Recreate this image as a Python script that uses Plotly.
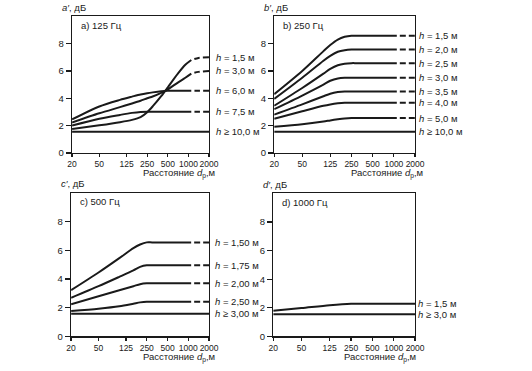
import plotly.graph_objects as go
import math

# ---------------- data ----------------
X_TICKS = [20, 50, 125, 250, 500, 1000, 2000]
X_TICK_TEXT = ["20", "50", "125", "250", "500", "1000", "2000"]
Y_TICKS = [0, 2, 4, 6, 8]
Y_RANGE = [0, 10]

# a) 125 Hz
A_X = [20, 50, 100, 150, 200, 250, 300, 400, 500, 700, 900, 1100]
A_H15 = [1.75, 2.02, 2.25, 2.42, 2.62, 2.98, 3.4, 4.15, 4.8, 5.8, 6.45, 6.8]
A_H30 = [2.23, 2.9, 3.35, 3.62, 3.82, 4.0, 4.13, 4.4, 4.65, 5.15, 5.5, 5.8]
A_H60 = [2.45, 3.4, 3.88, 4.12, 4.28, 4.37, 4.43, 4.51, 4.55, 4.55, 4.55, 4.55]
A_H75 = [2.0, 2.5, 2.78, 2.93, 3.0, 3.02, 3.02, 3.02, 3.02, 3.02, 3.02, 3.02]
A_DX = [1100, 1400, 2000]
A_H15_D = [6.8, 6.95, 7.0]
A_H30_D = [5.8, 5.93, 6.0]
A_H60_D = [4.55, 4.55, 4.55]
A_H75_D = [3.02, 3.02, 3.02]
A_FLAT_X = [20, 2000]
A_H100 = [1.55, 1.55]
A_LABELS = ["<i>h</i> = 1,5 м", "<i>h</i> = 3,0 м", "<i>h</i> = 6,0 м",
            "<i>h</i> = 7,5 м", "<i>h</i> ≥ 10,0 м"]

# b) 250 Hz
B_X = [20, 50, 100, 125, 160, 200, 250, 300, 1100]
B_H15 = [4.3, 6.0, 7.45, 7.9, 8.3, 8.5, 8.58, 8.58, 8.58]
B_H20 = [3.95, 5.5, 6.75, 7.1, 7.4, 7.52, 7.57, 7.57, 7.57]
B_H25 = [3.45, 4.75, 5.8, 6.15, 6.42, 6.53, 6.57, 6.57, 6.57]
B_H30 = [3.2, 4.2, 5.0, 5.28, 5.45, 5.5, 5.5, 5.5, 5.5]
B_H35 = [2.8, 3.55, 4.15, 4.33, 4.45, 4.5, 4.5, 4.5, 4.5]
B_H40 = [2.5, 3.05, 3.45, 3.55, 3.63, 3.67, 3.67, 3.67, 3.67]
B_H50 = [1.92, 2.1, 2.3, 2.38, 2.46, 2.52, 2.55, 2.55, 2.55]
B_DX = [1100, 2000]
B_FLAT_X = [20, 2000]
B_H100 = [1.55, 1.55]
B_LABELS = ["<i>h</i> = 1,5 м", "<i>h</i> = 2,0 м", "<i>h</i> = 2,5 м",
            "<i>h</i> = 3,0 м", "<i>h</i> = 3,5 м", "<i>h</i> = 4,0 м",
            "<i>h</i> = 5,0 м", "<i>h</i> ≥ 10,0 м"]

# c) 500 Hz
C_X = [20, 50, 100, 160, 200, 250, 300, 1100]
C_H150 = [3.22, 4.45, 5.45, 6.15, 6.4, 6.55, 6.55, 6.55]
C_H175 = [2.69, 3.5, 4.15, 4.6, 4.84, 4.95, 4.95, 4.95]
C_H200 = [2.24, 2.8, 3.22, 3.5, 3.64, 3.7, 3.7, 3.7]
C_H250 = [1.77, 1.93, 2.1, 2.28, 2.37, 2.42, 2.42, 2.42]
C_DX = [1100, 2000]
C_FLAT_X = [20, 2000]
C_H300 = [1.58, 1.58]
C_LABELS = ["<i>h</i> = 1,50 м", "<i>h</i> = 1,75 м", "<i>h</i> = 2,00 м",
            "<i>h</i> = 2,50 м", "<i>h</i> ≥ 3,00 м"]

# d) 1000 Hz
D_X = [20, 50, 125, 250, 300, 2000]
D_H15 = [1.79, 1.98, 2.18, 2.28, 2.28, 2.28]
D_FLAT_X = [20, 2000]
D_H30 = [1.55, 1.55]
D_LABELS = ["<i>h</i> = 1,5 м", "<i>h</i> ≥ 3,0 м"]

TITLES = ["a) 125 Гц", "b) 250 Гц", "c) 500 Гц", "d) 1000 Гц"]
Y_TITLES = ["<i>a′</i>, дБ", "<i>b′</i>, дБ", "<i>c′</i>, дБ", "<i>d′</i>, дБ"]
X_TITLE = "Расстояние <i>d</i><sub>р</sub>,м"

# ---------------- layout constants ----------------
W, H = 532, 371
FONT = "Liberation Sans, Arial, sans-serif"
INK = "#1a1a1a"
# panel boxes in pixels: left, right, top, bottom
BOXES = [(69, 210, 16.5, 155), (277, 422, 16.5, 155),
         (68, 210, 195.5, 341), (276, 422, 196, 341)]
LABEL_SHIFT = [5, 2, 4, 1]
XTITLE_SHIFT = [8, 10, 8, 3]


def xa(i):
    return "x" if i == 1 else f"x{i}"


def ya(i):
    return "y" if i == 1 else f"y{i}"


fig = go.Figure()


def line(panel, x, y, dashed=False, width=2.0):
    fig.add_trace(go.Scatter(
        x=x, y=y, mode="lines", xaxis=xa(panel), yaxis=ya(panel),
        line=dict(color=INK, width=width, shape="spline", smoothing=0.8,
                  dash="0px,3px,6px,0px" if dashed else "solid"),
        hoverinfo="skip", showlegend=False))


def label(panel, text, yval):
    fig.add_annotation(
        text=text, xref=f"{xa(panel)} domain", x=1, xanchor="left",
        xshift=LABEL_SHIFT[panel - 1], yref=ya(panel), y=yval,
        yanchor="middle", showarrow=False,
        font=dict(family=FONT, size=9.5, color=INK))


# panel a
for sol, dsh in [(A_H15, A_H15_D), (A_H30, A_H30_D), (A_H60, A_H60_D), (A_H75, A_H75_D)]:
    line(1, A_X, sol)
    line(1, A_DX, dsh, dashed=True)
line(1, A_FLAT_X, A_H100)
for t, s in zip(A_LABELS, [A_H15_D, A_H30_D, A_H60_D, A_H75_D, A_H100]):
    label(1, t, s[-1])

# panel b
b_series = [B_H15, B_H20, B_H25, B_H30, B_H35, B_H40, B_H50]
for s in b_series:
    line(2, B_X, s)
    line(2, B_DX, [s[-1], s[-1]], dashed=True)
line(2, B_FLAT_X, B_H100)
for t, s in zip(B_LABELS, b_series + [B_H100]):
    label(2, t, s[-1])

# panel c
c_series = [C_H150, C_H175, C_H200, C_H250]
for s in c_series:
    line(3, C_X, s)
    line(3, C_DX, [s[-1], s[-1]], dashed=True)
line(3, C_FLAT_X, C_H300)
for t, s in zip(C_LABELS, c_series + [C_H300]):
    label(3, t, s[-1])

# panel d
line(4, D_X, D_H15)
line(4, D_FLAT_X, D_H30)
for t, s in zip(D_LABELS, [D_H15, D_H30]):
    label(4, t, s[-1])

layout = dict(width=W, height=H, margin=dict(l=0, r=0, t=0, b=0),
              paper_bgcolor="white", plot_bgcolor="white",
              font=dict(family=FONT, size=9, color=INK), showlegend=False)

for i, (l, r, t, b) in enumerate(BOXES, start=1):
    sfx = "" if i == 1 else str(i)
    layout[f"xaxis{sfx}"] = dict(
        type="log", range=[math.log10(X_TICKS[0]), math.log10(X_TICKS[-1])],
        domain=[l / W, r / W], anchor=ya(i),
        tickvals=X_TICKS, ticktext=X_TICK_TEXT, ticks="outside", ticklen=3,
        tickangle=0, tickwidth=1.2, tickcolor=INK, showline=True, linecolor=INK,
        linewidth=1.3, mirror=True, showgrid=False, zeroline=False,
        tickfont=dict(family=FONT, size=8.5, color=INK))
    layout[f"yaxis{sfx}"] = dict(
        range=Y_RANGE, domain=[1 - b / H, 1 - t / H], anchor=xa(i),
        tickvals=Y_TICKS, ticks="outside", ticklen=5, tickwidth=1.2,
        tickcolor=INK, showline=True, linecolor=INK, linewidth=1.3,
        mirror=True, showgrid=False, zeroline=False,
        tickfont=dict(family=FONT, size=9.5, color=INK))

fig.update_layout(**layout)

for i in range(1, 5):
    # panel title inside the box
    fig.add_annotation(text=TITLES[i - 1], xref=f"{xa(i)} domain", x=0, xanchor="left",
                       xshift=7, yref=f"{ya(i)} domain", y=1, yanchor="middle",
                       yshift=-9, showarrow=False,
                       font=dict(family=FONT, size=9.5, color=INK))
    # y-axis label above the box
    fig.add_annotation(text=Y_TITLES[i - 1], xref=f"{xa(i)} domain", x=0,
                       xanchor="left", xshift=-12, yref=f"{ya(i)} domain", y=1,
                       yanchor="middle", yshift=9, showarrow=False,
                       font=dict(family=FONT, size=9.5, color=INK))
    # x-axis title
    fig.add_annotation(text=X_TITLE, xref=f"{xa(i)} domain", x=1, xanchor="right",
                       xshift=XTITLE_SHIFT[i - 1], yref=f"{ya(i)} domain", y=0,
                       yanchor="middle", yshift=-21, showarrow=False,
                       font=dict(family=FONT, size=9.5, color=INK))

fig.write_html("out.html", config={"displayModeBar": False, "staticPlot": True},
               post_script="document.body.style.margin='0';document.body.style.padding='0';")
